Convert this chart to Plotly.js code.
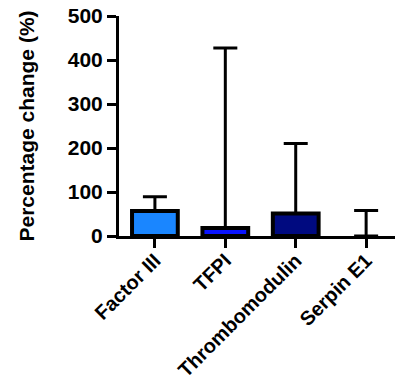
<!DOCTYPE html>
<html>
<head>
<meta charset="utf-8">
<script src="https://cdn.plot.ly/plotly-3.0.1.min.js"></script>
<style>html,body{margin:0;padding:0;background:#fff;}#chart{width:395px;height:386px;}</style>
</head>
<body>
<div id="chart"></div>
<script>
const categories = ["Factor III", "TFPI", "Thrombomodulin", "Serpin E1"];
const meanValues = [57, 18, 51, 0];
const upperValues = [89, 427, 210, 58];
const barColors = ["#1A86FF", "#0A14FF", "#000A80", "#FFFFFF"];
const yTicks = [0, 100, 200, 300, 400, 500];

const errPlus = upperValues.map((u, i) => u - meanValues[i]);

const trace = {
  type: "bar",
  x: categories,
  y: meanValues,
  width: 0.65,
  marker: { color: barColors, line: { color: "#000", width: meanValues.map(v => v > 0 ? 4 : 0) } },
  error_y: {
    type: "data",
    symmetric: false,
    array: errPlus,
    arrayminus: meanValues.map(() => 0),
    color: "#000",
    thickness: 3,
    width: 12
  },
  hoverinfo: "none"
};

const font = { family: "Liberation Sans, Arial, sans-serif", size: 21, color: "#000", weight: "bold" };
const xFont = { family: "Liberation Sans, Arial, sans-serif", size: 20, color: "#000", weight: "bold" };

const layout = {
  width: 395, height: 386,
  margin: { l: 119, r: 0, t: 16, b: 150 },
  paper_bgcolor: "#fff", plot_bgcolor: "#fff",
  showlegend: false,
  font: font,
  xaxis: {
    range: [-0.51, 3.41],
    showline: true, linecolor: "#000", linewidth: 3,
    ticks: "outside", ticklen: 9, tickwidth: 3, tickcolor: "#000",
    tickangle: -45,
    ticklabelstandoff: -7,
    tickfont: xFont,
    showgrid: false, zeroline: false,
    fixedrange: true
  },
  yaxis: {
    range: [0, 500],
    tickvals: yTicks,
    showline: true, linecolor: "#000", linewidth: 3,
    ticks: "outside", ticklen: 9, tickwidth: 3, tickcolor: "#000",
    tickfont: font,
    showgrid: false, zeroline: false,
    title: { text: "Percentage change (%)", font: font, standoff: 28 },
    fixedrange: true
  }
};

Plotly.newPlot("chart", [trace], layout, { displayModeBar: false, staticPlot: true });
</script>
</body>
</html>
